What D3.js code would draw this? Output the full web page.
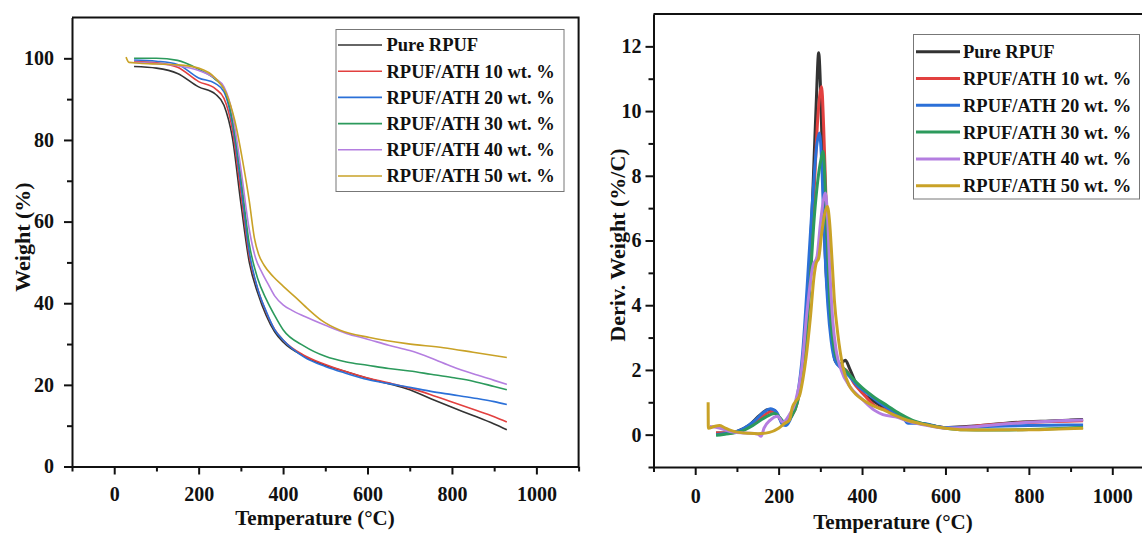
<!DOCTYPE html>
<html>
<head>
<meta charset="utf-8">
<script src="https://cdn.jsdelivr.net/npm/d3@7"></script>
<style>
  body { margin: 0; background: #fff; }
  svg { display: block; }
  text { font-family: "Liberation Serif", "Times New Roman", serif; font-weight: bold; fill: #111; }
</style>
</head>
<body>
<svg id="chart" width="1142" height="533"></svg>
<script>
const seriesNames = ["Pure RPUF", "RPUF/ATH 10 wt. %", "RPUF/ATH 20 wt. %",
                     "RPUF/ATH 30 wt. %", "RPUF/ATH 40 wt. %", "RPUF/ATH 50 wt. %"];
const seriesColors = ["#333333", "#e2403f", "#2b70d8", "#2c9a5c", "#b47ee0", "#c9a227"];

const tempTicks = [0, 200, 400, 600, 800, 1000];
const tempMinor = [-100, 100, 300, 500, 700, 900, 1100];
const weightTicks = [0, 20, 40, 60, 80, 100];
const weightMinor = [10, 30, 50, 70, 90];
const derivTicks = [0, 2, 4, 6, 8, 10, 12];
const derivMinor = [-1, 1, 3, 5, 7, 9, 11];

// TGA: [temperature, weight %]
const tgaPure = [[47,98.0],[100,97.6],[150,96.3],[200,93.0],[240,91.2],[260,88.5],[280,80.5],[300,64.5],[320,50],[340,42.5],[360,37],[380,33],[400,30.5],[450,27],[500,24.8],[550,23.2],[600,21.6],[650,20.3],[700,18.8],[750,16.6],[800,14.5],[850,12.5],[900,10.4],[930,9.0]];
const tga10 = [[47,99.2],[100,98.9],[150,97.8],[200,94.3],[240,92.5],[260,90.2],[280,82.5],[300,67],[320,51.5],[340,43.5],[360,37.8],[380,33.6],[400,31],[450,27.2],[500,25],[550,23.2],[600,21.7],[650,20.5],[700,19.2],[750,17.6],[800,15.8],[850,14.0],[900,12.2],[930,10.9]];
const tga20 = [[47,99.6],[100,99.3],[150,98.5],[200,95.2],[240,93.8],[260,91.8],[280,84],[300,69],[320,52.5],[340,43.5],[360,38],[380,33.5],[400,31],[450,26.8],[500,24.5],[550,22.8],[600,21.3],[650,20.3],[700,19.4],[750,18.4],[800,17.6],[850,16.8],[900,15.9],[930,15.2]];
const tga30 = [[47,100],[100,100],[150,99.5],[200,97.3],[240,94.8],[260,92.5],[280,85],[300,71],[320,54.5],[340,46],[360,41],[380,37],[400,33.5],[450,29.5],[500,27],[550,25.6],[600,24.8],[650,24.0],[700,23.4],[750,22.6],[800,21.8],[850,20.9],[900,19.6],[930,18.8]];
const tga40 = [[47,99],[100,98.7],[150,98.2],[200,97],[240,95],[260,93],[280,86.5],[300,73],[320,58],[335,51],[350,47.5],[365,44.6],[380,41.8],[400,39.6],[420,38.3],[450,36.8],[500,34.6],[550,32.6],[600,31.2],[650,29.7],[700,28.4],[750,26.6],[800,24.5],[850,22.7],[900,21.1],[930,20.1]];
const tga50 = [[28,100.3],[35,99],[60,98.8],[100,98.6],[150,98.4],[200,97.6],[240,95.1],[265,91.5],[285,85],[304,75],[320,65],[332,56],[342,52],[355,49.3],[377,46.5],[400,44.2],[429,41.5],[460,38.5],[491,35.8],[535,33.4],[605,31.6],[693,30.1],[780,29.1],[850,28],[930,26.7]];

// DTG: [temperature, deriv. weight %/C]
const dtgPure = [[50,0.05],[80,0.05],[100,0.1],[130,0.3],[155,0.6],[175,0.78],[190,0.75],[205,0.45],[215,0.35],[230,0.6],[245,1.1],[260,2.4],[272,4.5],[282,7.5],[290,10.2],[296,11.8],[301,10.5],[306,8],[312,5.5],[320,4],[328,3],[335,2.3],[345,2.15],[360,2.3],[370,2.05],[385,1.6],[400,1.3],[420,1.1],[450,0.85],[480,0.6],[520,0.4],[560,0.3],[600,0.22],[650,0.25],[700,0.3],[750,0.36],[800,0.4],[850,0.42],[900,0.45],[930,0.47]];
const dtg10 = [[50,0.05],[80,0.05],[100,0.08],[130,0.25],[160,0.55],[185,0.72],[200,0.55],[215,0.35],[230,0.55],[245,1.0],[260,2.2],[272,4.2],[284,7.2],[294,9.8],[303,10.76],[308,9.5],[313,7.5],[320,5],[328,3.2],[336,2.4],[350,2.1],[365,1.95],[380,1.6],[400,1.3],[430,0.9],[460,0.75],[490,0.6],[520,0.42],[560,0.3],[600,0.22],[650,0.24],[700,0.3],[800,0.38],[930,0.43]];
const dtg20 = [[50,0],[80,0.05],[110,0.15],[140,0.4],[165,0.7],[180,0.8],[195,0.7],[210,0.3],[218,0.28],[232,0.6],[245,1.2],[258,2.6],[268,4.5],[280,7],[292,9.0],[298,9.32],[304,8.2],[310,6],[318,4],[326,2.9],[335,2.3],[350,2.05],[370,1.8],[390,1.5],[410,1.3],[440,1.0],[470,0.75],[500,0.5],[510,0.35],[540,0.35],[600,0.22],[700,0.25],[800,0.28],[930,0.3]];
const dtg30 = [[50,-0.02],[80,0.03],[110,0.1],[140,0.3],[170,0.55],[190,0.65],[205,0.5],[215,0.35],[230,0.55],[245,1.0],[260,2.2],[272,4.0],[286,6.8],[300,8.4],[307,8.75],[312,7.6],[318,5.5],[325,3.6],[334,2.6],[345,2.2],[360,2.0],[380,1.7],[400,1.45],[430,1.15],[460,0.9],[490,0.65],[520,0.45],[560,0.3],[600,0.2],[650,0.15],[700,0.14],[800,0.16],[930,0.22]];
const dtg40 = [[35,0.25],[60,0.2],[90,0.08],[120,0.05],[150,0.02],[158,-0.05],[165,0.2],[180,0.45],[198,0.57],[210,0.38],[225,0.6],[240,1.0],[255,2.0],[268,3.8],[282,5.2],[292,5.5],[300,6.5],[308,7.3],[312,7.47],[317,6.8],[323,5],[330,3.5],[338,2.6],[350,2.0],[370,1.5],[400,1.1],[430,0.75],[450,0.62],[480,0.55],[510,0.42],[550,0.3],[600,0.2],[650,0.22],[700,0.28],[800,0.38],[930,0.45]];
const dtg50 = [[31,1.0],[31.5,0.2],[45,0.25],[58,0.28],[70,0.22],[82,0.15],[105,0.07],[130,0.04],[150,0.03],[178,0.07],[200,0.2],[215,0.35],[226,0.45],[233,0.85],[241,1.03],[250,1.2],[258,1.7],[266,2.4],[276,3.6],[285,4.9],[290,5.3],[296,5.45],[303,6.2],[310,6.8],[317,7.05],[322,6.6],[328,5.4],[334,4.1],[342,3.1],[354,2.1],[370,1.5],[385,1.25],[402,1.08],[425,0.9],[450,0.77],[475,0.62],[505,0.46],[540,0.34],[570,0.26],[600,0.2],[635,0.15],[700,0.14],[800,0.15],[930,0.2]];

const tgaSeries = [tgaPure, tga10, tga20, tga30, tga40, tga50];
const dtgSeries = [dtgPure, dtg10, dtg20, dtg30, dtg40, dtg50];

const svg = d3.select("#chart");

function drawPanel(opt) {
  const x = d3.scaleLinear().domain([-100, 1100]).range([opt.left, opt.right]);
  const y = d3.scaleLinear().domain(opt.yDomain).range([opt.bottom, opt.top]);
  const g = svg.append("g");

  // curves
  const line = d3.line().x(d => x(d[0])).y(d => y(d[1])).curve(d3.curveMonotoneX);
  g.append("g").selectAll("path")
    .data(opt.series)
    .join("path")
    .attr("d", line)
    .attr("fill", "none")
    .attr("stroke", (d, i) => seriesColors[i])
    .attr("stroke-width", opt.lineWidth)
    .attr("stroke-linejoin", "round");

  // axes
  g.append("g").attr("transform", `translate(0,${opt.bottom})`)
    .call(d3.axisBottom(x).tickValues(tempTicks).tickFormat(d3.format("d"))
      .tickSizeInner(8).tickSizeOuter(0).tickPadding(opt.xPad));
  g.append("g").attr("transform", `translate(0,${opt.bottom})`)
    .call(d3.axisBottom(x).tickValues(tempMinor).tickSize(5).tickFormat(""))
    .select(".domain").remove();
  g.append("g").attr("transform", `translate(${opt.left},0)`)
    .call(d3.axisLeft(y).tickValues(opt.yTicks).tickFormat(d3.format("d"))
      .tickSizeInner(8).tickSizeOuter(0).tickPadding(opt.yPad));
  g.append("g").attr("transform", `translate(${opt.left},0)`)
    .call(d3.axisLeft(y).tickValues(opt.yMinor).tickSize(5).tickFormat(""))
    .select(".domain").remove();

  g.selectAll(".tick line").attr("stroke", "#111").attr("stroke-width", 2);
  g.selectAll(".domain").attr("stroke", "#111").attr("stroke-width", 2);
  g.selectAll(".tick text")
    .attr("font-size", "20px")
    .attr("font-family", "Liberation Serif, serif")
    .attr("font-weight", "bold")
    .attr("fill", "#111");

  // frame: top and right
  g.append("path")
    .attr("d", `M${opt.left},${opt.top}H${opt.right}V${opt.bottom}`)
    .attr("fill", "none").attr("stroke", "#111").attr("stroke-width", 2);

  // axis titles
  g.append("text")
    .attr("x", opt.xTitle[0]).attr("y", opt.xTitle[1])
    .attr("text-anchor", "middle").attr("font-size", "21px")
    .text("Temperature (°C)");
  g.append("text")
    .attr("transform", `translate(${opt.yTitle[0]},${opt.yTitle[1]}) rotate(-90)`)
    .attr("text-anchor", "middle").attr("font-size", "22px")
    .text(opt.yLabel);

  // legend
  const lg = opt.legend;
  g.append("rect")
    .attr("x", lg.x).attr("y", lg.y).attr("width", lg.w).attr("height", lg.h)
    .attr("fill", "#fff").attr("stroke", "#777").attr("stroke-width", 1);
  const items = g.append("g").selectAll("g")
    .data(seriesNames)
    .join("g")
    .attr("transform", (d, i) => `translate(0,${lg.row0 + i * lg.step})`);
  items.append("line")
    .attr("x1", lg.lineX[0]).attr("x2", lg.lineX[1])
    .attr("stroke", (d, i) => seriesColors[i])
    .attr("stroke-width", lg.lineWidth);
  items.append("text")
    .attr("x", lg.textX).attr("dy", "0.35em")
    .attr("font-size", "18.5px")
    .text(d => d);
}

drawPanel({
  left: 72, right: 578.6, top: 17.5, bottom: 466.5,
  yDomain: [0, 110], yTicks: weightTicks, yMinor: weightMinor,
  series: tgaSeries, lineWidth: 1.6,
  xPad: 12, yPad: 10,
  xTitle: [315, 525], yTitle: [30, 237], yLabel: "Weight (%)",
  legend: {x: 336, y: 29.5, w: 228, h: 162, row0: 45, step: 26.2,
           lineX: [338, 382], textX: 386.5, lineWidth: 1.6}
});

drawPanel({
  left: 653.5, right: 1154, top: 14, bottom: 467,
  yDomain: [-1, 13], yTicks: derivTicks, yMinor: derivMinor,
  series: dtgSeries, lineWidth: 3,
  xPad: 14, yPad: 4,
  xTitle: [893, 529], yTitle: [625, 245], yLabel: "Deriv. Weight (%/C)",
  legend: {x: 913.5, y: 34.5, w: 226, h: 164.5, row0: 51.7, step: 26.8,
           lineX: [916, 960], textX: 963, lineWidth: 3}
});
</script>
</body>
</html>
